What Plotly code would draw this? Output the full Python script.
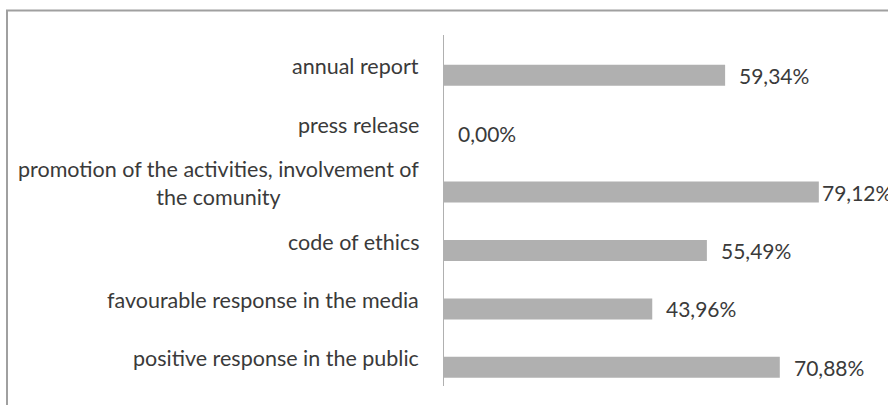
import plotly.graph_objects as go

categories = [
    "annual report",
    "press release",
    "promotion of the activities, involvement of<br>the comunity",
    "code of ethics",
    "favourable response in the media",
    "positive response in the public",
]
values = [59.34, 0.00, 79.12, 55.49, 43.96, 70.88]
value_labels = ["59,34%", "0,00%", "79,12%", "55,49%", "43,96%", "70,88%"]
label_gaps = [12, 12, 1, 12, 12, 12]

W, H = 888, 405
ML, MR, MT, MB = 444, 65, 35, 19
PW, PH = W - ML - MR, H - MT - MB

FONT = "Lato, Carlito, Calibri, sans-serif"
TXT = "#3a3a3a"

fig = go.Figure()
fig.add_trace(go.Bar(
    y=categories, x=values, orientation="h",
    marker=dict(color="#b0b0b0", line=dict(width=0)),
    hoverinfo="skip",
))

annotations = []
for c, v, t, g in zip(categories, values, value_labels, label_gaps):
    annotations.append(dict(
        x=v, y=c, xref="x", yref="y", text=t, showarrow=False,
        xanchor="left", yanchor="middle", xshift=g,
        font=dict(family=FONT, size=21, color=TXT),
    ))
    annotations.append(dict(
        x=-23 / PW, y=c, xref="paper", yref="y", text=c, showarrow=False,
        xanchor="right", yanchor="middle", align="center", yshift=9,
        font=dict(family=FONT, size=21.5, color=TXT),
    ))

# outer chart border (partially cut by the image edge)
fig.add_shape(
    type="rect", xref="paper", yref="paper",
    x0=(7 - ML) / PW, x1=(W + 20 - ML) / PW,
    y0=(MT + PH - (H + 20)) / PH, y1=(MT + PH - 10.5) / PH,
    line=dict(color="#a0a0a0", width=2), fillcolor="rgba(0,0,0,0)",
)

fig.update_layout(
    width=W, height=H,
    margin=dict(l=ML, r=MR, t=MT, b=MB),
    paper_bgcolor="white", plot_bgcolor="white",
    showlegend=False, bargap=0.64,
    annotations=annotations,
    xaxis=dict(range=[0, 80], visible=False, fixedrange=True),
    yaxis=dict(
        range=[5.32, -0.69], showticklabels=False, ticks="",
        showline=True, linecolor="#b0b0b0", linewidth=1,
        showgrid=False, zeroline=False, fixedrange=True,
    ),
)

fig.write_html("out.html", config={"displayModeBar": False})
